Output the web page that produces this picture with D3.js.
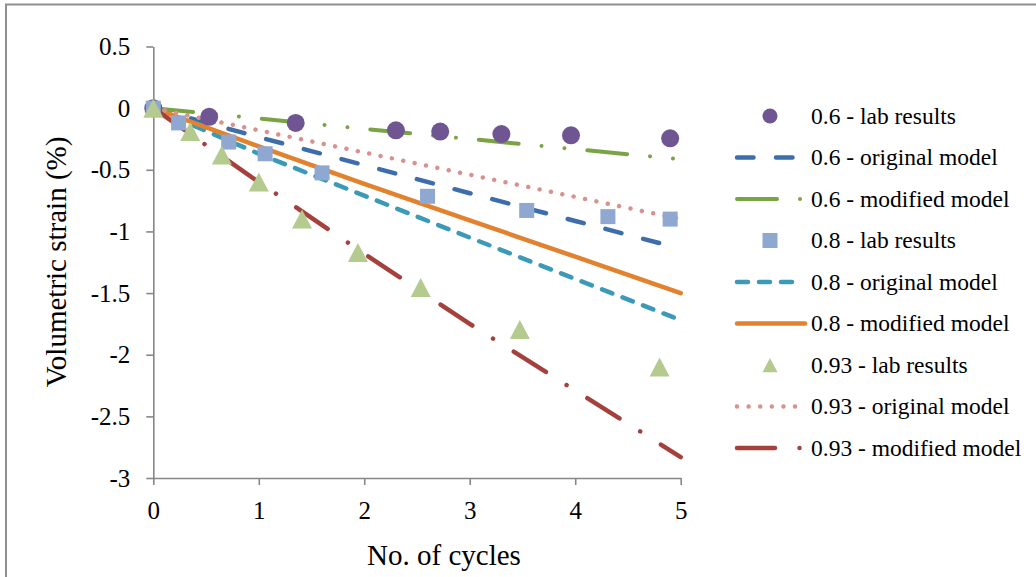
<!DOCTYPE html>
<html lang="en">
<head>
    <meta charset="UTF-8">
    <title>Volumetric strain vs cycles</title>
    <script src="https://d3js.org/d3.v7.min.js"></script>
    <style>
        body { margin: 0; background: #fff; }
        text { font-family: "Liberation Serif", "Times New Roman", serif; fill: #000; }
        .axis path, .axis line { stroke: #878787; stroke-width: 1.6px; }
        .axis text { font-size: 25px; }
        .title { font-size: 29px; }
        .legend text { font-size: 23.5px; }
    </style>
</head>
<body>
<script>
    // tick values
    const xTicks = [0, 1, 2, 3, 4, 5];
    const yTicks = [0.5, 0, -0.5, -1, -1.5, -2, -2.5, -3];

    // lab results
    const lab06X = [0, 0.53, 1.35, 2.30, 2.72, 3.30, 3.96, 4.90];
    const lab06Y = [0, -0.07, -0.12, -0.18, -0.19, -0.21, -0.22, -0.245];
    const lab08X = [0, 0.24, 0.715, 1.06, 1.60, 2.60, 3.54, 4.31, 4.90];
    const lab08Y = [0, -0.12, -0.275, -0.37, -0.525, -0.715, -0.83, -0.88, -0.90];
    const lab093X = [0, 0.35, 0.65, 1.0, 1.41, 1.94, 2.535, 3.475, 4.80];
    const lab093Y = [0, -0.19, -0.38, -0.60, -0.90, -1.17, -1.455, -1.795, -2.10];

    // model curves
    const modelX = [0, 1, 2, 3, 4, 5];
    const orig06 = [0, -0.235, -0.462, -0.69, -0.915, -1.14];
    const mod06 = [0, -0.084, -0.168, -0.25, -0.333, -0.415];
    const orig08 = [0, -0.37, -0.71, -1.05, -1.385, -1.72];
    const mod08 = [0, -0.31, -0.615, -0.91, -1.205, -1.50];
    const orig093 = [0, -0.18, -0.36, -0.54, -0.72, -0.90];
    const mod093 = [0, -0.60, -1.18, -1.75, -2.29, -2.83];

    const legendLabels = [
        "0.6 - lab results", "0.6 - original model", "0.6 - modified model",
        "0.8 - lab results", "0.8 - original model", "0.8 - modified model",
        "0.93 - lab results", "0.93 - original model", "0.93 - modified model"
    ];

    const width = 1036;
    const height = 577;

    const x = d3.scaleLinear().domain([0, 5]).range([153.3, 680.7]);
    const y = d3.scaleLinear().domain([-3, 0.5]).range([478, 46.5]);

    const zip = (xs, ys) => xs.map((v, i) => [v, ys[i]]);

    // series in legend order
    const series = [
        {type: "circle", color: "#6f5591", pts: zip(lab06X, lab06Y)},
        {type: "line", color: "#3e6dab", w: 4.5, dash: "16.5,22.5", pts: zip(modelX, orig06), lx2: 795},
        {type: "line", color: "#7aa443", w: 4, dash: "40,23,0.01,23,0.01,23", pts: zip(modelX, mod06), lx2: 801},
        {type: "square", color: "#8fa8d2", pts: zip(lab08X, lab08Y)},
        {type: "line", color: "#3b9ab7", w: 4.5, dash: "11,11", pts: zip(modelX, orig08), lx2: 795},
        {type: "line", color: "#e2822f", w: 4.5, dash: null, pts: zip(modelX, mod08), lx2: 805},
        {type: "triangle", color: "#b4ca8f", pts: zip(lab093X, lab093Y)},
        {type: "line", color: "#d8918f", w: 4.5, dash: "0.01,11.6", pts: zip(modelX, orig093), lx2: 796},
        {type: "line", color: "#a5403d", w: 4.5, dash: "38,24.5,0.01,24.5", pts: zip(modelX, mod093), lx2: 800}
    ];

    const svg = d3.select("body").append("svg").attr("width", width).attr("height", height);

    // outer chart frame (runs off the right and bottom)
    svg.append("rect")
        .attr("x", 6).attr("y", 4.5)
        .attr("width", width + 20).attr("height", height + 20)
        .attr("fill", "none").attr("stroke", "#8f8f8f").attr("stroke-width", 2);

    // axes
    svg.append("g").attr("class", "axis")
        .attr("transform", `translate(0,${y(-3)})`)
        .call(d3.axisBottom(x).tickValues(xTicks).tickSize(7).tickSizeOuter(0).tickPadding(16)
            .tickFormat(d => String(d)));
    svg.append("g").attr("class", "axis")
        .attr("transform", `translate(${x(0)},0)`)
        .call(d3.axisLeft(y).tickValues(yTicks).tickSize(7).tickSizeOuter(0).tickPadding(16)
            .tickFormat(d => String(d)));

    // axis titles
    svg.append("text").attr("class", "title")
        .attr("x", 444).attr("y", 565).attr("text-anchor", "middle")
        .text("No. of cycles");
    svg.append("text").attr("class", "title")
        .attr("transform", "translate(66,262) rotate(-90)")
        .attr("text-anchor", "middle")
        .text("Volumetric strain (%)");

    const line = d3.line().x(d => x(d[0])).y(d => y(d[1]));

    // model lines first
    series.filter(s => s.type === "line").forEach(s => {
        svg.append("path")
            .attr("d", line(s.pts))
            .attr("fill", "none")
            .attr("stroke", s.color)
            .attr("stroke-width", s.w)
            .attr("stroke-linecap", "round")
            .attr("stroke-dasharray", s.dash);
    });

    // markers
    function marker(g, type, color, size) {
        if (type === "circle") {
            g.append("circle").attr("r", size / 2).attr("fill", color);
        } else if (type === "square") {
            g.append("rect").attr("x", -size / 2).attr("y", -size / 2)
                .attr("width", size).attr("height", size).attr("fill", color);
        } else {
            const h = size * 0.95;
            g.append("path")
                .attr("d", `M0,${-h / 2}L${size / 2},${h / 2}L${-size / 2},${h / 2}Z`)
                .attr("fill", color);
        }
    }

    const markerSize = {circle: 18, square: 15, triangle: 20};
    series.filter(s => s.type !== "line").forEach(s => {
        svg.append("g").selectAll("g")
            .data(s.pts)
            .enter()
            .append("g")
            .attr("transform", d => `translate(${x(d[0])},${y(d[1])})`)
            .each(function () { marker(d3.select(this), s.type, s.color, markerSize[s.type]); });
    });

    // legend
    const legend = svg.append("g").attr("class", "legend");
    series.forEach((s, i) => {
        const ly = 116 + i * 41.5;
        if (s.type === "line") {
            legend.append("path")
                .attr("d", `M737,${ly}L${s.lx2},${ly}`)
                .attr("fill", "none")
                .attr("stroke", s.color)
                .attr("stroke-width", s.w)
                .attr("stroke-linecap", "round")
                .attr("stroke-dasharray", s.dash);
        } else {
            const g = legend.append("g").attr("transform", `translate(770,${ly})`);
            marker(g, s.type, s.color, 15);
        }
        legend.append("text")
            .attr("x", 811).attr("y", ly).attr("dy", "0.33em")
            .text(legendLabels[i]);
    });
</script>
</body>
</html>
